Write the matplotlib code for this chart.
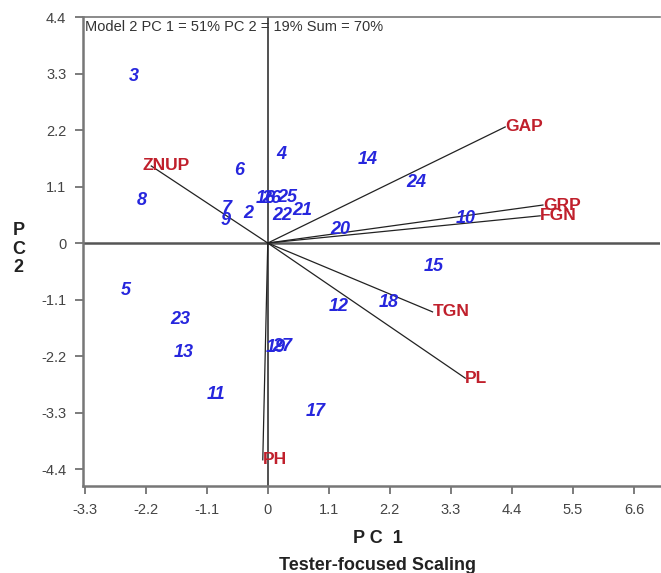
import matplotlib.pyplot as plt

plt.rcParams['font.family'] = ['Liberation Sans', 'DejaVu Sans']

# genotype scores (PC1, PC2)
gen_labels = ['3', '4', '6', '8', '7', '9', '2', '16', '26', '25', '22', '21',
              '14', '24', '20', '10', '15', '12', '18', '5', '23', '13', '11',
              '19', '27', '17']
gen_pc1 = [-2.41, 0.25, -0.52, -2.28, -0.74, -0.76, -0.36, -0.04, 0.06, 0.36, 0.27, 0.63,
           1.80, 2.68, 1.31, 3.56, 2.99, 1.28, 2.18, -2.55, -1.58, -1.51, -0.94,
           0.14, 0.26, 0.86]
gen_pc2 = [3.25, 1.73, 1.42, 0.82, 0.68, 0.43, 0.58, 0.86, 0.86, 0.89, 0.54, 0.64,
           1.63, 1.17, 0.27, 0.47, -0.45, -1.23, -1.15, -0.93, -1.48, -2.14, -2.94,
           -2.04, -2.02, -3.27]

# trait vectors (PC1, PC2)
trait_labels = ['GAP', 'GRP', 'FGN', 'TGN', 'PL', 'PH', 'ZNUP']
trait_pc1 = [4.28, 4.96, 4.91, 2.97, 3.56, -0.09, -2.10]
trait_pc2 = [2.26, 0.74, 0.53, -1.34, -2.63, -4.22, 1.50]

ticks = [-3.3, -2.2, -1.1, 0, 1.1, 2.2, 3.3, 4.4, 5.5, 6.6]
yticks = [-4.4, -3.3, -2.2, -1.1, 0, 1.1, 2.2, 3.3, 4.4]

fig = plt.figure(figsize=(6.61, 5.73), dpi=100)
ax = fig.add_axes([0.1256, 0.1518, 0.8729, 0.8185])

ax.axhline(0, color='#555555', lw=1.8, zorder=1)
ax.axvline(0, color='#333333', lw=1.2, zorder=1)

for name, x, y in zip(trait_labels, trait_pc1, trait_pc2):
    ax.plot([0, x], [0, y], color='#222222', lw=0.9, zorder=2)
    # labels start at the tip; ZNUP sits a little to the left
    dx = -6 if name == 'ZNUP' else 0
    ax.annotate(name, (x, y), xytext=(dx, 0), textcoords='offset points',
                color='#c0202c', fontsize=12.5, fontweight='bold',
                ha='left', va='center', zorder=3)

for name, x, y in zip(gen_labels, gen_pc1, gen_pc2):
    ax.text(x, y, name, color='#2626dd', fontsize=13, fontweight='bold',
            style='italic', ha='center', va='center', zorder=4)

ax.set_xlim(-3.33, 7.07)
ax.set_ylim(-4.73, 4.4)
ax.set_xticks(ticks)
ax.set_xticklabels([str(t) if t != 0 else '0' for t in ticks])
ax.set_yticks(yticks)
ax.set_yticklabels([str(t) if t != 0 else '0' for t in yticks])
ax.tick_params(direction='out', length=6, width=1.2, color='#666666',
               labelcolor='#444444', labelsize=10.5, pad=6)

for side in ['left', 'bottom']:
    ax.spines[side].set_color('#777777')
    ax.spines[side].set_linewidth(1.8)
ax.spines['top'].set_color('#777777')
ax.spines['top'].set_linewidth(1.2)
ax.spines['right'].set_visible(False)

ax.text(0.003, 0.993, 'Model 2 PC 1 = 51% PC 2 = 19% Sum = 70%',
        transform=ax.transAxes, fontsize=10.5, color='#333333',
        ha='left', va='top', zorder=5)

fig.text(0.571, 0.061, 'P C  1', fontsize=13, fontweight='bold',
         color='#222222', ha='center', va='center')
fig.text(0.571, 0.013, 'Tester-focused Scaling', fontsize=13, fontweight='bold',
         color='#222222', ha='center', va='center')
fig.text(0.028, 0.565, 'P\nC\n2', fontsize=13, fontweight='bold',
         color='#222222', ha='center', va='center', linespacing=1.1)

fig.savefig('out.png', dpi=100)
